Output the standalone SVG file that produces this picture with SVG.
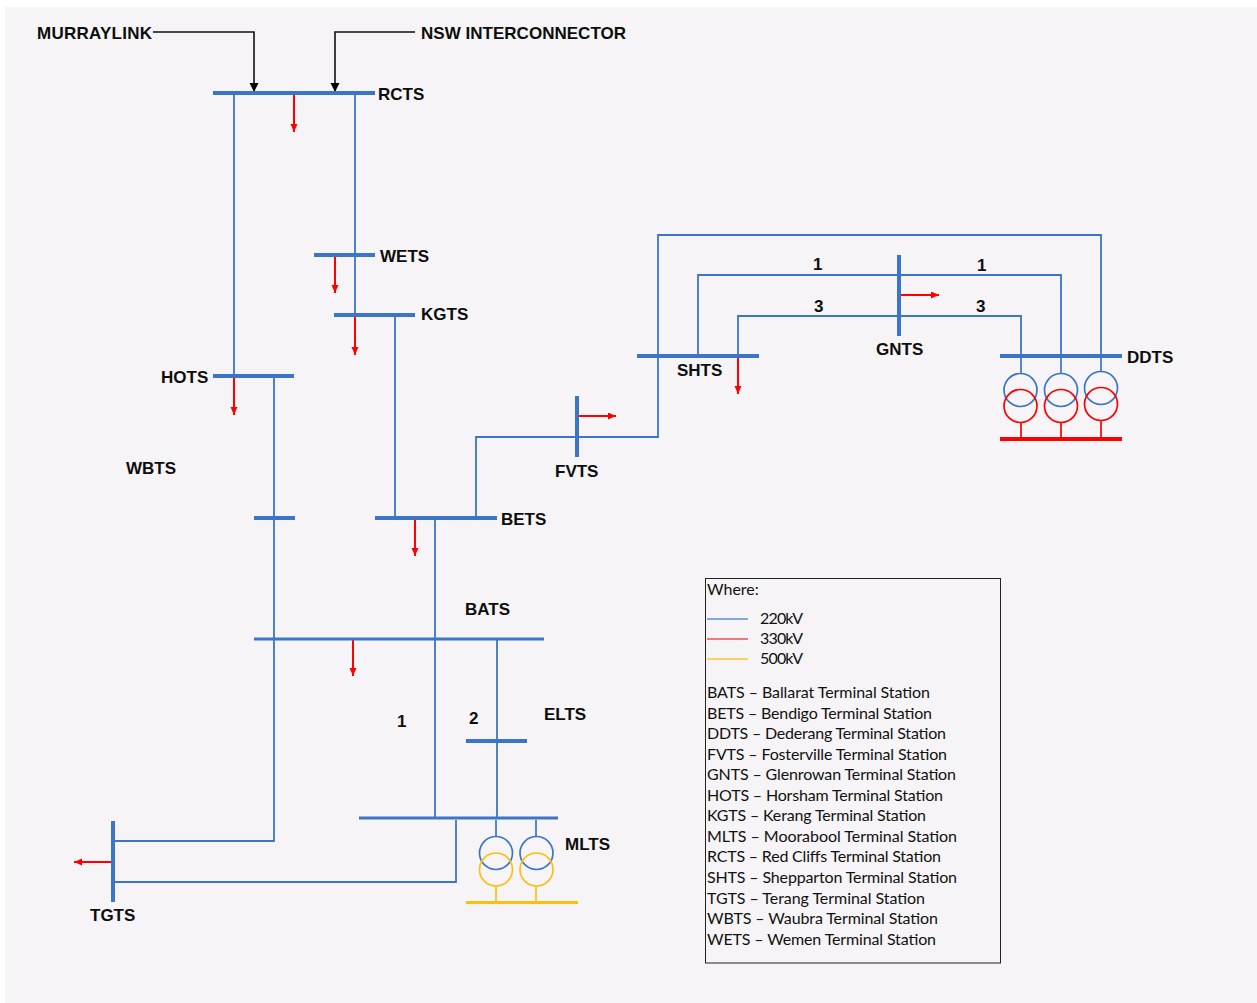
<svg xmlns="http://www.w3.org/2000/svg" width="1257" height="1003" viewBox="0 0 1257 1003">
<style>
.bus{stroke:#3a75c8;stroke-width:4;fill:none}
.thin{stroke-width:3}
.bb{stroke:#3a75c8;stroke-width:1.800;fill:none}
.tb{stroke:#3a75c8;stroke-width:1.700;fill:none}
.tr{stroke:#f00;stroke-width:1.700;fill:none}
.ty{stroke:#fdbf0f;stroke-width:1.700;fill:none}
.k{stroke:#111;stroke-width:1.600;fill:none}
.load{stroke:#f00;stroke-width:2;fill:none;marker-end:url(#ar)}
text{font-family:"Liberation Sans",Arial,sans-serif}
.l{font-size:17px;font-weight:700;fill:#0d0d0d}
.n{font-size:16px;fill:#111;font-family:Lato,"Noto Sans",sans-serif}
</style>
<defs>
<marker id="ar" markerUnits="userSpaceOnUse" markerWidth="10" markerHeight="8" refX="8" refY="3.500" orient="auto"><path d="M0 0L8 3.500L0 7Z" fill="#f00"/></marker>
<marker id="ak" markerUnits="userSpaceOnUse" markerWidth="10" markerHeight="10" refX="9" refY="4.500" orient="auto"><path d="M0 0L9 4.500L0 9Z" fill="#000"/></marker>
</defs>
<rect x="0" y="0" width="1257" height="1003" fill="#fff"/>
<rect x="5" y="7" width="1252" height="996" fill="#f6f4f6"/>
<g id="connectors">
<path class="k" marker-end="url(#ak)" d="M153 32H254V92"/>
<path class="k" marker-end="url(#ak)" d="M415 32H335V92"/>
<path class="bb" d="M234 93V376M355 93V315M395 315V518M274 376V841H114M435 518V818M497 639V818M456 820V882H114M476 518V437H658V235H1101V356M698 356V275H1061V356M738 356V316H1021V356"/>
<path class="load" d="M294 94V132"/>
<path class="load" d="M335 256V293"/>
<path class="load" d="M355 316V355"/>
<path class="load" d="M234 377V415"/>
<path class="load" d="M415 519V556"/>
<path class="load" d="M353 640V676"/>
<path class="load" d="M738 357V394"/>
<path class="load" d="M578 416H616"/>
<path class="load" d="M900 295H939"/>
<path class="load" d="M112 862H74"/>
</g>
<g id="RCTS"><path class="bus" d="M213 93H375"/><text class="l" x="378" y="100">RCTS</text></g>
<g id="WETS"><path class="bus" d="M314 255H375"/><text class="l" x="380" y="262">WETS</text></g>
<g id="KGTS"><path class="bus" d="M334 315H415"/><text class="l" x="421" y="320">KGTS</text></g>
<g id="HOTS"><path class="bus" d="M213 376H294"/><text class="l" x="161" y="383">HOTS</text></g>
<g id="WBTS"><path class="bus" d="M254 518H295"/><text class="l" x="126" y="474">WBTS</text></g>
<g id="BETS"><path class="bus" d="M375 518H497"/><text class="l" x="501" y="525">BETS</text></g>
<g id="BATS"><path class="bus thin" d="M254 639H544"/><text class="l" x="465" y="615">BATS</text></g>
<g id="ELTS"><path class="bus" d="M466 741H527"/><text class="l" x="544" y="720">ELTS</text></g>
<g id="FVTS"><path class="bus" d="M577 396V457"/><text class="l" x="555" y="477">FVTS</text></g>
<g id="SHTS"><path class="bus" d="M637 356H759"/><text class="l" x="677" y="376">SHTS</text></g>
<g id="GNTS"><path class="bus" d="M899 255V336"/><text class="l" x="876" y="355">GNTS</text></g>
<g id="DDTS"><path class="bus" d="M1000 356H1122"/>
<path class="tb" d="M1021 356V374M1061 356V374M1101 356V372"/>
<circle class="tb" cx="1020.500" cy="390" r="16.500"/><circle class="tb" cx="1061" cy="390" r="16.500"/><circle class="tb" cx="1101" cy="388" r="16.500"/>
<circle class="tr" cx="1020.500" cy="406" r="16.500"/><circle class="tr" cx="1061" cy="406" r="16.500"/><circle class="tr" cx="1101" cy="404" r="16.500"/>
<path class="tr" d="M1021 422V439M1061 422V439M1101 420V439"/>
<path d="M1000 439H1122" fill="none" stroke="#f00" stroke-width="4"/>
<text class="l" x="1127" y="363">DDTS</text></g>
<g id="MLTS"><path class="bus thin" d="M359 818H558"/>
<path class="tb" d="M496 820V837M536 820V837"/>
<circle class="tb" cx="496" cy="853" r="16.500"/><circle class="tb" cx="536.500" cy="853" r="16.500"/>
<circle class="ty" cx="496" cy="869.500" r="16.500"/><circle class="ty" cx="536.500" cy="869.500" r="16.500"/>
<path class="ty" d="M496 886V902M536 886V902"/>
<path d="M466 902.500H578" fill="none" stroke="#fdbf0f" stroke-width="3"/>
<text class="l" x="565" y="850">MLTS</text></g>
<g id="TGTS"><path class="bus" d="M113 821V902"/><text class="l" x="90" y="921">TGTS</text></g>
<g id="MURRAYLINK"><text class="l" x="37" y="39" textLength="115">MURRAYLINK</text></g>
<g id="NSW"><text class="l" x="421" y="39" textLength="205">NSW INTERCONNECTOR</text></g>
<g id="numbers">
<text class="l" x="813" y="270">1</text><text class="l" x="977" y="271">1</text>
<text class="l" x="814" y="312">3</text><text class="l" x="976" y="312">3</text>
<text class="l" x="397" y="727">1</text><text class="l" x="469" y="724">2</text>
</g>
<g id="legend">
<rect x="705.500" y="578.500" width="295" height="384.500" fill="none" stroke="#222" stroke-width="1"/>
<text class="n" x="707" y="595">Where:</text>
<path d="M707 619H748" stroke="#5b8fdc" stroke-width="1.300" fill="none"/>
<path d="M707 639H748" stroke="#ee4f4f" stroke-width="1.300" fill="none"/>
<path d="M707 659H748" stroke="#fcc630" stroke-width="1.300" fill="none"/>
<text class="n" x="760" y="624" textLength="43">220kV</text>
<text class="n" x="760" y="644" textLength="43">330kV</text>
<text class="n" x="760" y="664" textLength="43">500kV</text>
<text class="n" x="707" y="698" textLength="223">BATS – Ballarat Terminal Station</text>
<text class="n" x="707" y="719" textLength="225">BETS – Bendigo Terminal Station</text>
<text class="n" x="707" y="739" textLength="239">DDTS – Dederang Terminal Station</text>
<text class="n" x="707" y="760" textLength="240">FVTS – Fosterville Terminal Station</text>
<text class="n" x="707" y="780" textLength="249">GNTS – Glenrowan Terminal Station</text>
<text class="n" x="707" y="801" textLength="236">HOTS – Horsham Terminal Station</text>
<text class="n" x="707" y="821" textLength="219">KGTS – Kerang Terminal Station</text>
<text class="n" x="707" y="842" textLength="250">MLTS – Moorabool Terminal Station</text>
<text class="n" x="707" y="862" textLength="234">RCTS – Red Cliffs Terminal Station</text>
<text class="n" x="707" y="883" textLength="250">SHTS – Shepparton Terminal Station</text>
<text class="n" x="707" y="904" textLength="218">TGTS – Terang Terminal Station</text>
<text class="n" x="707" y="924" textLength="231">WBTS – Waubra Terminal Station</text>
<text class="n" x="707" y="945" textLength="229">WETS – Wemen Terminal Station</text>
</g>
</svg>
